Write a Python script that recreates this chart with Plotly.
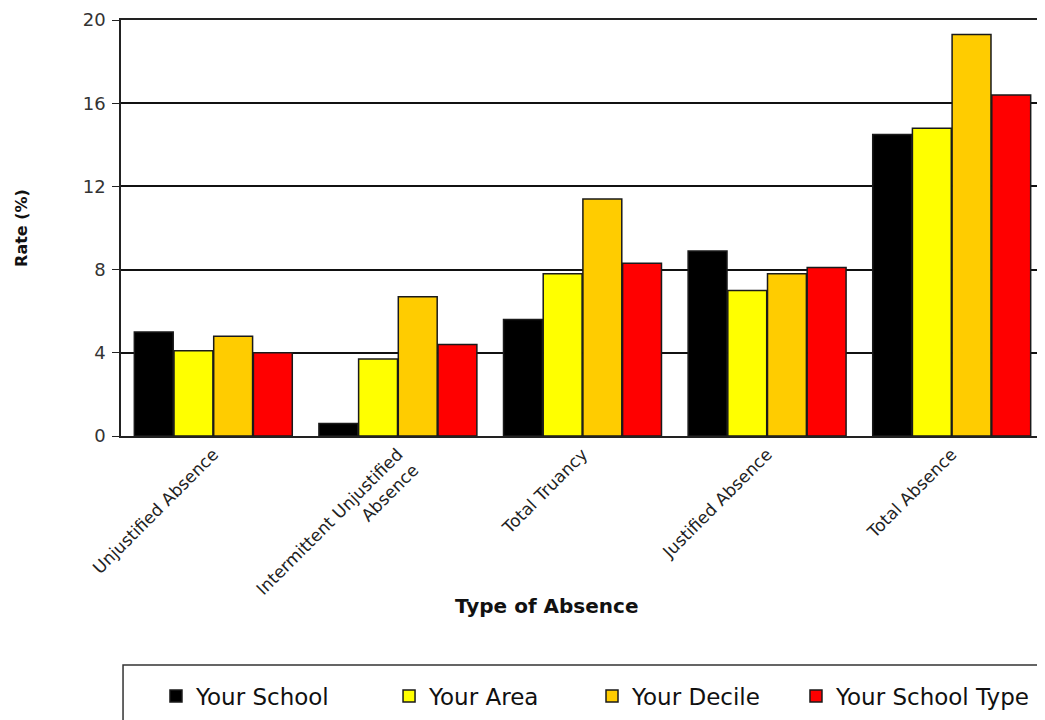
import plotly.graph_objects as go

categories = ["Unjustified Absence", "Intermittent Unjustified<br>Absence", "Total Truancy",
              "Justified Absence", "Total Absence"]
your_school = [5.0, 0.6, 5.6, 8.9, 14.5]
your_area = [4.1, 3.7, 7.8, 7.0, 14.8]
your_decile = [4.8, 6.7, 11.4, 7.8, 19.3]
your_school_type = [4.0, 4.4, 8.3, 8.1, 16.4]

series = [
    ("Your School", your_school, "#000000"),
    ("Your Area", your_area, "#FFFF00"),
    ("Your Decile", your_decile, "#FFCC00"),
    ("Your School Type", your_school_type, "#FF0000"),
]
legend_ids = ["legend", "legend2", "legend3", "legend4"]
legend_x = [0.0379, 0.2904, 0.5103, 0.7313]

fig = go.Figure()
for (name, vals, col), lid in zip(series, legend_ids):
    fig.add_trace(go.Bar(
        x=categories, y=vals, name=name, legend=lid,
        marker=dict(color=col, line=dict(color="#1a1a1a", width=1.5)),
    ))

fig.add_annotation(
    text="<b>Type of Absence</b>", xref="paper", yref="paper",
    x=0.4605, y=-0.409, xanchor="center", yanchor="middle", showarrow=False,
    font=dict(size=20, family="DejaVu Sans", color="#111111"),
)

# legend frame
fig.add_shape(
    type="rect", xref="paper", yref="paper",
    x0=0.0022, x1=1.05, y0=-0.5505, y1=-0.75,
    line=dict(color="#333333", width=1.5), fillcolor="rgba(0,0,0,0)", layer="below",
)

legend_style = dict(
    orientation="h", xanchor="left", y=-0.625, yanchor="middle",
    bgcolor="rgba(0,0,0,0)", borderwidth=0,
    font=dict(family="DejaVu Sans", size=23, color="#111111"),
)

fig.update_layout(
    width=1038, height=713,
    paper_bgcolor="white", plot_bgcolor="white",
    margin=dict(l=113, r=2, t=12, b=285),
    barmode="group", bargap=0.14, bargroupgap=0.02,
    font=dict(family="DejaVu Sans", color="#222222", size=13),
    showlegend=True,
    legend=dict(x=legend_x[0], **legend_style),
    legend2=dict(x=legend_x[1], **legend_style),
    legend3=dict(x=legend_x[2], **legend_style),
    legend4=dict(x=legend_x[3], **legend_style),
    xaxis=dict(
        tickangle=-45, showline=True, linecolor="#222222", linewidth=1.5, mirror=True,
        ticks="", tickfont=dict(size=17, family="DejaVu Sans", color="#222222"),
        automargin=False,
    ),
    yaxis=dict(
        range=[0, 20], dtick=4, showgrid=True, gridcolor="#111111", gridwidth=1.5,
        showline=True, linecolor="#222222", linewidth=1.5, mirror=True,
        ticks="outside", ticklen=7, tickcolor="#222222",
        tickfont=dict(size=18, family="DejaVu Sans", color="#333333"),
        ticklabelstandoff=3,
        zeroline=False, automargin=False,
        title=dict(text="<b>Rate (%)</b>", font=dict(size=16, family="DejaVu Sans", color="#111111"),
                   standoff=51),
    ),
)

fig.write_html("out.html")
